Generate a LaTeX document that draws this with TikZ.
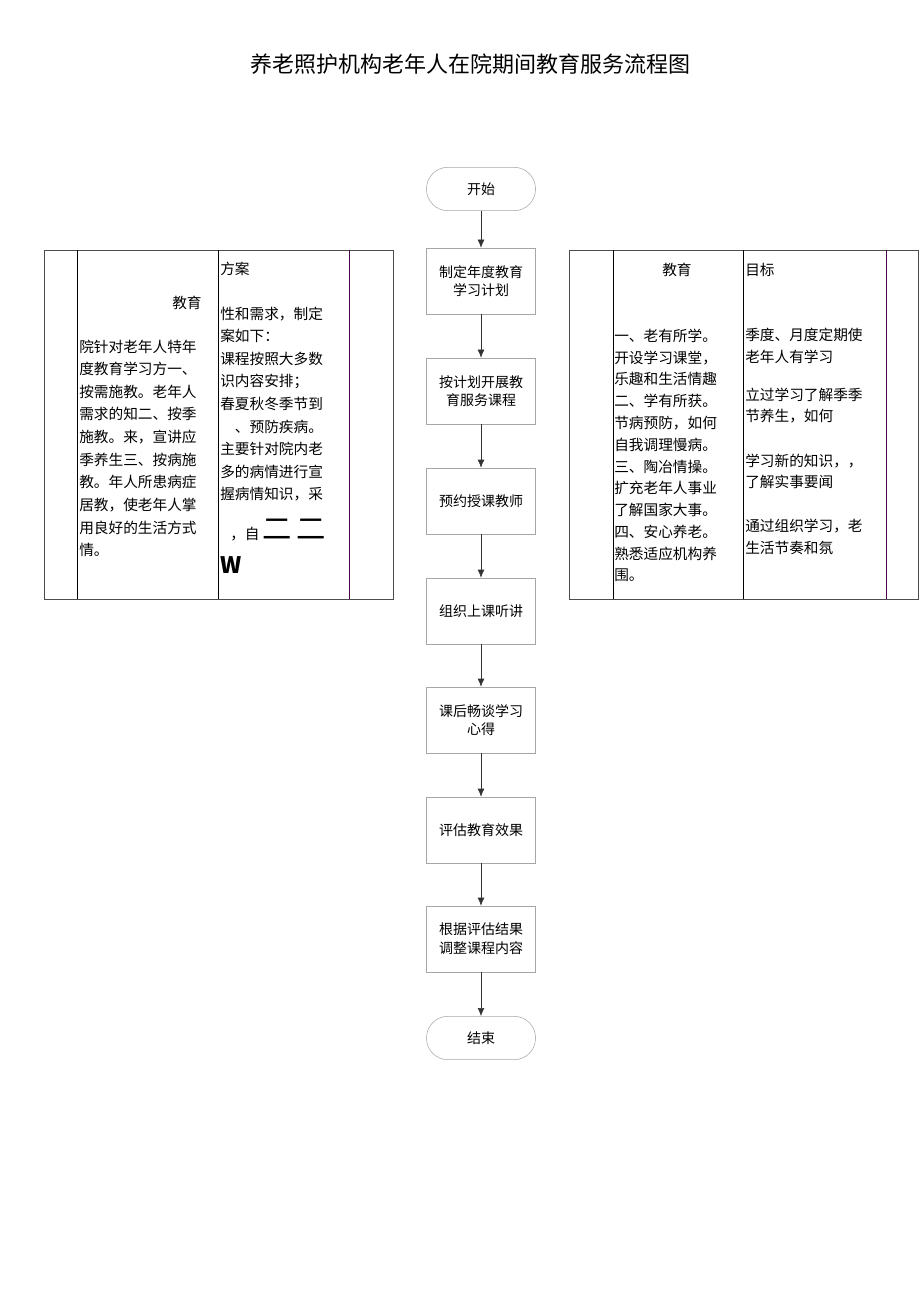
\documentclass[tikz,border=0pt]{standalone}
\usepackage{fontspec}
\usetikzlibrary{arrows.meta}
\setmainfont{Noto Sans CJK SC}
\begin{document}
\begin{tikzpicture}[x=0.75pt,y=-0.75pt,
  fb/.style={draw=black!35,fill=white,minimum width=81.75pt,minimum height=49.5pt,inner sep=1pt,align=center,font=\fontsize{10.5}{14}\selectfont},
  term/.style={draw=black!35,rounded corners=16pt,minimum width=81.75pt,minimum height=32.5pt,font=\fontsize{10.5}{14}\selectfont},
  arr/.style={-{Latex[length=6pt,width=5pt]},black!80},
  tl/.style={anchor=west,inner sep=0pt,font=\fontsize{11}{14}\selectfont}]
\useasboundingbox (0,0) rectangle (920,1301);
\node (title) at (470,64) {\fontsize{16.5}{20}\selectfont 养老照护机构老年人在院期间教育服务流程图};
\node[term] (s) at (481,189) {开始};
\node[fb] (b1) at (481,281) {制定年度教育\\学习计划};
\node[fb] (b2) at (481,391) {按计划开展教\\育服务课程};
\node[fb] (b3) at (481,501) {预约授课教师};
\node[fb] (b4) at (481,611) {组织上课听讲};
\node[fb] (b5) at (481,720) {课后畅谈学习\\心得};
\node[fb] (b6) at (481,830) {评估教育效果};
\node[fb] (b7) at (481,939) {根据评估结果\\调整课程内容};
\node[term] (e) at (481,1038) {结束};
\foreach \a/\b in {s/b1,b1/b2,b2/b3,b3/b4,b4/b5,b5/b6,b6/b7,b7/e}
  \draw[arr] (\a) -- (\b);
% left table
\draw[black!70] (44,250) rectangle (393,599);
\draw (77,250) -- (77,599) (218,250) -- (218,599);
\draw[violet!60!black] (349,250) -- (349,599);
\node[tl] at (172,303) {教育};
\foreach \t [count=\i] in {院针对老年人特年,度教育学习方一、,按需施教。老年人,需求的知二、按季,施教。来，宣讲应,季养生三、按病施,教。年人所患病症,居教，使老年人掌,用良好的生活方式,情。}
  \node[tl] at (79,324+\i*22.6) {\t};
\node[tl] at (220,269) {方案};
\foreach \t [count=\i] in {性和需求，制定,案如下：,课程按照大多数,识内容安排；,春夏秋冬季节到,\quad 、预防疾病。,主要针对院内老,多的病情进行宣,握病情知识，采}
  \node[tl] at (220,291+\i*22.6) {\t};
\node[tl] at (230,530) {，自\,\fontsize{22}{22}\selectfont 二\,二};
\node[tl] at (220,565) {\fontsize{17}{17}\selectfont\bfseries W};
% right table
\draw[black!70] (569,250) rectangle (918,599);
\draw (613,250) -- (613,599) (743,250) -- (743,599);
\draw[violet!60!black] (886,250) -- (886,599);
\node[tl] at (662,270) {教育};
\node[tl] at (745,270) {目标};
\foreach \t [count=\i] in {一、老有所学。,开设学习课堂，,乐趣和生活情趣,二、学有所获。,节病预防，如何,自我调理慢病。,三、陶冶情操。,扩充老年人事业,了解国家大事。,四、安心养老。,熟悉适应机构养,围。}
  \node[tl] at (614,314+\i*21.8) {\t};
\node[tl] at (745,335) {季度、月度定期使};
\node[tl] at (745,357) {老年人有学习};
\node[tl] at (745,395) {立过学习了解季季};
\node[tl] at (745,416) {节养生，如何};
\node[tl] at (745,461) {学习新的知识，，};
\node[tl] at (745,482) {了解实事要闻};
\node[tl] at (745,526) {通过组织学习，老};
\node[tl] at (745,548) {生活节奏和氛};
\end{tikzpicture}
\end{document}
